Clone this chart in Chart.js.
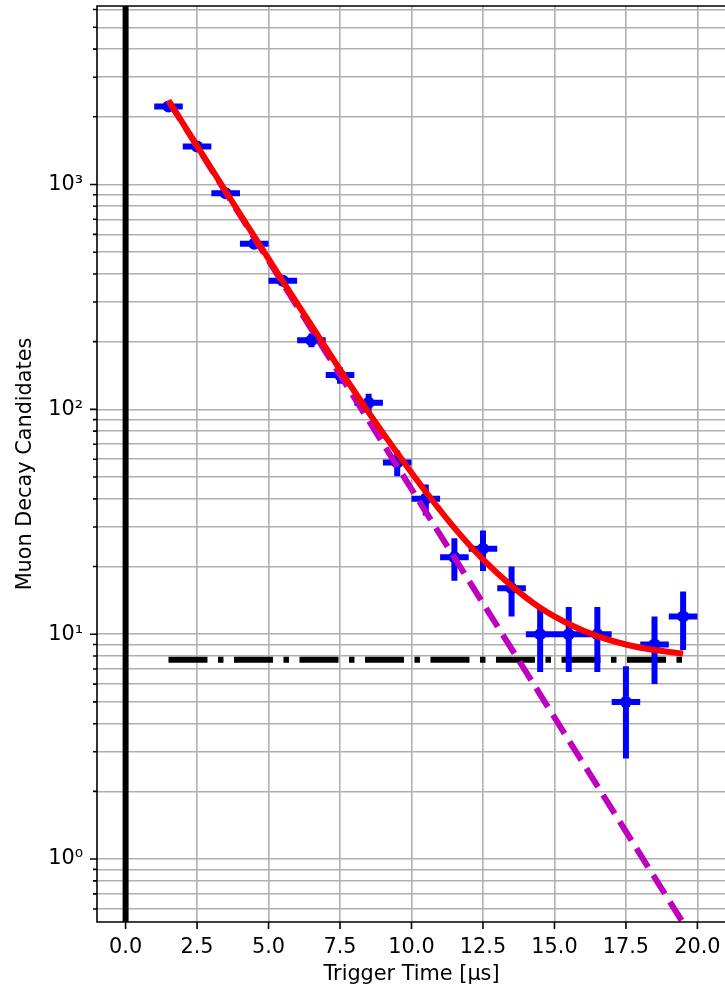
<!DOCTYPE html>
<html>
<head>
<meta charset="utf-8">
<script src="https://cdn.jsdelivr.net/npm/chart.js@4.4.1/dist/chart.umd.min.js"></script>
<style>
html, body { margin: 0; padding: 0; background: #fff; overflow: hidden; }
</style>
</head>
<body>
<canvas id="decay" width="732" height="989"></canvas>
<script>
// bin centres [us], counts and read-off error bars
const times = [1.5, 2.5, 3.5, 4.5, 5.5, 6.5, 7.5, 8.5, 9.5, 10.5, 11.5, 12.5, 13.5, 14.5, 15.5, 16.5, 17.5, 18.5, 19.5];
const counts = [2222, 1475, 915, 545, 373, 203, 142, 107, 58, 40, 22, 24, 16, 10, 10, 10, 5, 9, 12];
const countErr = [47, 38.4, 30.2, 23.3, 19.3, 14.2, 11.9, 10.3, 7.6, 6.3, 4.7, 4.9, 4.0, 3.2, 3.2, 3.2, 2.2, 3.0, 3.5];
const binHalf = 0.5;

// fit curve (exp + flat background)
const fitValues = [2364, 1485, 933, 588, 371, 236, 150, 97, 64, 43, 29.7, 21.5, 16.4, 13.1, 11.1, 9.8, 9.0, 8.5, 8.2];
const expoTimes = [1.5, 19.5];
const expoValues = [2356, 0.52];
const bgTimes = [1.5, 19.5];
const bgValues = [7.7, 7.7];

// axes
const xMin = -1, xMax = 21;
const yMin = 0.525, yMax = 6220;
const xTicks = [0, 2.5, 5, 7.5, 10, 12.5, 15, 17.5, 20];
const yMajor = [1, 10, 100, 1000];
const yLabels = ['10\u2070', '10\u00b9', '10\u00b2', '10\u00b3'];
const yMinor = [0.6, 0.7, 0.8, 0.9, 2, 3, 4, 5, 6, 7, 8, 9, 20, 30, 40, 50, 60, 70, 80, 90,
  200, 300, 400, 500, 600, 700, 800, 900, 2000, 3000, 4000, 5000, 6000];

const pts = (xs, ys) => xs.map((x, i) => ({x: x, y: ys[i]}));

const errPoints = [];
times.forEach((t, i) => {
    errPoints.push({x: t - binHalf, y: counts[i]}, {x: t + binHalf, y: counts[i]}, {x: t, y: null});
    errPoints.push({x: t, y: counts[i] - countErr[i]}, {x: t, y: counts[i] + countErr[i]}, {x: t, y: null});
});

const frame = {
    id: 'frame',
    afterDatasetsDraw(chart) {
        const {ctx, chartArea: a, scales: {x, y}} = chart;
        ctx.save();
        ctx.strokeStyle = '#000';
        ctx.lineWidth = 1.6;
        ctx.beginPath();
        ctx.moveTo(a.right + 5, a.top);
        ctx.lineTo(a.left, a.top);
        ctx.lineTo(a.left, a.bottom);
        ctx.lineTo(a.right + 5, a.bottom);
        xTicks.forEach(v => {
            const px = x.getPixelForValue(v);
            ctx.moveTo(px, a.bottom);
            ctx.lineTo(px, a.bottom + 7);
        });
        yMajor.concat(yMinor).forEach(v => {
            const py = y.getPixelForValue(v);
            const len = yMajor.includes(v) ? 7 : 4;
            ctx.moveTo(a.left, py);
            ctx.lineTo(a.left - len, py);
        });
        ctx.stroke();
        ctx.restore();
    }
};

const font = {family: '"DejaVu Sans", sans-serif', size: 20.8};

new Chart(document.getElementById('decay'), {
    type: 'line',
    data: {
        datasets: [{
            data: pts(times, fitValues),
            borderColor: '#ff0000',
            borderWidth: 6,
            pointRadius: 0,
            cubicInterpolationMode: 'monotone',
            clip: 0,
            order: 1
        }, {
            data: pts(expoTimes, expoValues),
            borderColor: '#bf00bf',
            borderWidth: 6,
            borderDash: [22, 9.5],
            pointRadius: 0,
            clip: 0,
            order: 2
        }, {
            data: pts(times, counts),
            showLine: false,
            pointRadius: 6,
            pointBackgroundColor: '#0000ff',
            pointBorderWidth: 0,
            order: 3
        }, {
            data: errPoints,
            borderColor: '#0000ff',
            borderWidth: 6,
            pointRadius: 0,
            spanGaps: false,
            clip: 0,
            order: 4
        }, {
            data: pts(bgTimes, bgValues),
            borderColor: '#000',
            borderWidth: 6,
            borderDash: [39, 10.5, 5.5, 10.5],
            pointRadius: 0,
            clip: 0,
            order: 5
        }, {
            data: [{x: 0, y: yMin}, {x: 0, y: yMax}],
            borderColor: '#000',
            borderWidth: 6,
            pointRadius: 0,
            clip: 0,
            order: 6
        }]
    },
    options: {
        responsive: false,
        animation: false,
        layout: {padding: {top: 5, right: 0, bottom: 0, left: 0}},
        plugins: {legend: {display: false}, tooltip: {enabled: false}},
        scales: {
            x: {
                type: 'linear',
                min: xMin,
                max: xMax,
                afterBuildTicks: s => { s.ticks = xTicks.map(v => ({value: v})); },
                afterFit: s => { s.height = 67; s.paddingLeft = 0; s.paddingRight = 0; },
                grid: {color: '#b0b0b0', lineWidth: 1.6, drawTicks: false},
                border: {display: false},
                ticks: {
                    color: '#000', font: font, padding: 13, maxRotation: 0, autoSkip: false,
                    callback: v => v.toFixed(1)
                },
                title: {display: true, text: 'Trigger Time [\u03bcs]', color: '#000', font: font, padding: {top: 0, bottom: 2}}
            },
            y: {
                type: 'logarithmic',
                min: yMin,
                max: yMax,
                afterBuildTicks: s => { s.ticks = yMajor.concat(yMinor).map(v => ({value: v})); },
                afterFit: s => { s.width = 97; s.paddingTop = 0; s.paddingBottom = 0; },
                grid: {color: '#b0b0b0', lineWidth: 1.6, drawTicks: false},
                border: {display: false},
                ticks: {
                    color: '#000', font: font, padding: 14, autoSkip: false,
                    callback: v => { const k = yMajor.indexOf(v); return k >= 0 ? yLabels[k] : ''; }
                },
                title: {display: true, text: 'Muon Decay Candidates', color: '#000', font: font, padding: {top: 13, bottom: 0}}
            }
        }
    },
    plugins: [frame]
});
</script>
</body>
</html>
